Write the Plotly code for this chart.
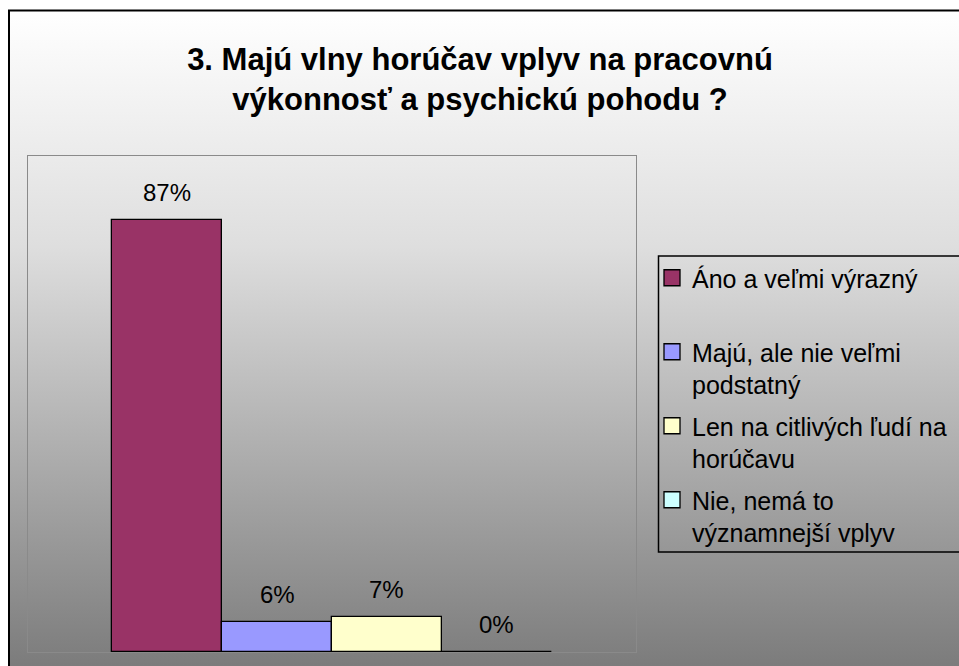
import base64
import plotly.graph_objects as go

# ---- data ----
categories = [
    "Áno a veľmi výrazný<br> ",
    "Majú, ale nie veľmi<br>podstatný",
    "Len na citlivých ľudí na<br>horúčavu",
    "Nie, nemá to<br>významnejší vplyv",
]
values = [87, 6, 7, 0]
value_labels = ["87%", "6%", "7%", "0%"]
colors = ["#993366", "#9999ff", "#ffffcc", "#ccffff"]
title_text = "3. Majú vlny horúčav vplyv na pracovnú<br>výkonnosť a psychickú pohodu ?"

OFF = 0  # page offset of the figure (body margin removed below)
W, H = 959, 666
ml, mr, mt, mb = 28, 323, 156, 14
pw, ph = W - ml - mr, H - mt - mb
FONT = "Liberation Sans, Arial"


def px_x(page_x):
    return (page_x - OFF - ml) / pw


def px_y(page_y):
    return (H - mb - (page_y - OFF)) / ph


fig = go.Figure()
for i, (cat, v, c) in enumerate(zip(categories, values, colors)):
    fig.add_trace(go.Bar(
        x=[i], y=[v], name=cat, showlegend=False,
        marker=dict(color=c, line=dict(color="#000000", width=1.3)),
        width=1, hoverinfo="skip",
    ))
    fig.add_annotation(x=i, y=v, text=value_labels[i], showarrow=False, yanchor="bottom",
                       yshift=12, font=dict(family=FONT, size=24, color="#000"))
# legend entries (square swatches)
for i, (cat, c) in enumerate(zip(categories, colors)):
    fig.add_trace(go.Scatter(
        x=[None], y=[None], mode="markers", name=cat, legendgroup=str(i),
        marker=dict(symbol="square", size=16, color=c, line=dict(color="#000000", width=1.3)),
        hoverinfo="skip",
    ))

# background gradient
svg = ("<svg xmlns='http://www.w3.org/2000/svg' width='100' height='100' viewBox='0 0 100 100' "
       "preserveAspectRatio='none'><defs><linearGradient id='g' x1='0' y1='0' x2='0' y2='1'>"
       "<stop offset='0' stop-color='#ffffff'/><stop offset='0.35' stop-color='#dedede'/>"
       "<stop offset='1' stop-color='#777777'/></linearGradient></defs>"
       "<rect width='100' height='100' fill='url(#g)'/></svg>")
src = "data:image/svg+xml;base64," + base64.b64encode(svg.encode()).decode()

fig.add_layout_image(dict(source=src, xref="paper", yref="paper", x=px_x(9), y=px_y(10),
                          sizex=(W + 20) / pw, sizey=(H + 10) / ph, sizing="stretch",
                          xanchor="left", yanchor="top", layer="below"))
# outer chart border (left and top visible)
fig.add_shape(type="line", xref="paper", yref="paper", x0=px_x(9), x1=px_x(9), y0=px_y(10), y1=px_y(700),
              line=dict(color="#000000", width=2))
fig.add_shape(type="line", xref="paper", yref="paper", x0=px_x(8), x1=px_x(1000), y0=px_y(10.5), y1=px_y(10.5),
              line=dict(color="#000000", width=2))
# legend frame (left, top, bottom edges; right edge lies outside the view)
fig.add_shape(type="path", xref="paper", yref="paper",
              path=f"M {px_x(1000)} {px_y(256)} L {px_x(658.5)} {px_y(256)} "
                   f"L {px_x(658.5)} {px_y(552)} L {px_x(1000)} {px_y(552)}",
              line=dict(color="#000000", width=1.5))

fig.update_layout(
    width=W, height=H,
    margin=dict(l=ml, r=mr, t=mt, b=mb, autoexpand=False),
    paper_bgcolor="#ffffff", plot_bgcolor="#c0c0c0",
    barmode="overlay", bargap=0, showlegend=True,
    title=dict(text=title_text, x=480 / W, xref="container", xanchor="center",
               y=1 - 70 / H, yref="container", yanchor="top",
               font=dict(family=FONT, size=31, color="#000", weight="bold")),
    legend=dict(x=px_x(652), y=px_y(255), xanchor="left", yanchor="top", xref="paper", yref="paper",
                bgcolor="rgba(0,0,0,0)", borderwidth=0,
                font=dict(family=FONT, size=25, color="#000"),
                valign="top", tracegroupgap=6, traceorder="grouped", itemwidth=30),
    xaxis=dict(range=[-1.264, 4.264], showticklabels=False, ticks="", showgrid=False, zeroline=False,
               showline=True, linecolor="#8a8a8a", linewidth=1, mirror=True, fixedrange=True),
    yaxis=dict(range=[0, 100], showticklabels=False, ticks="", showgrid=False, zeroline=False,
               showline=True, linecolor="#8a8a8a", linewidth=1, mirror=True, fixedrange=True),
)

fig.write_html(
    "out.html",
    config={"displayModeBar": False},
    post_script=("document.body.style.margin='0';document.body.style.padding='0';"
                 "document.documentElement.style.overflow='hidden';document.body.style.overflow='hidden';"),
)
